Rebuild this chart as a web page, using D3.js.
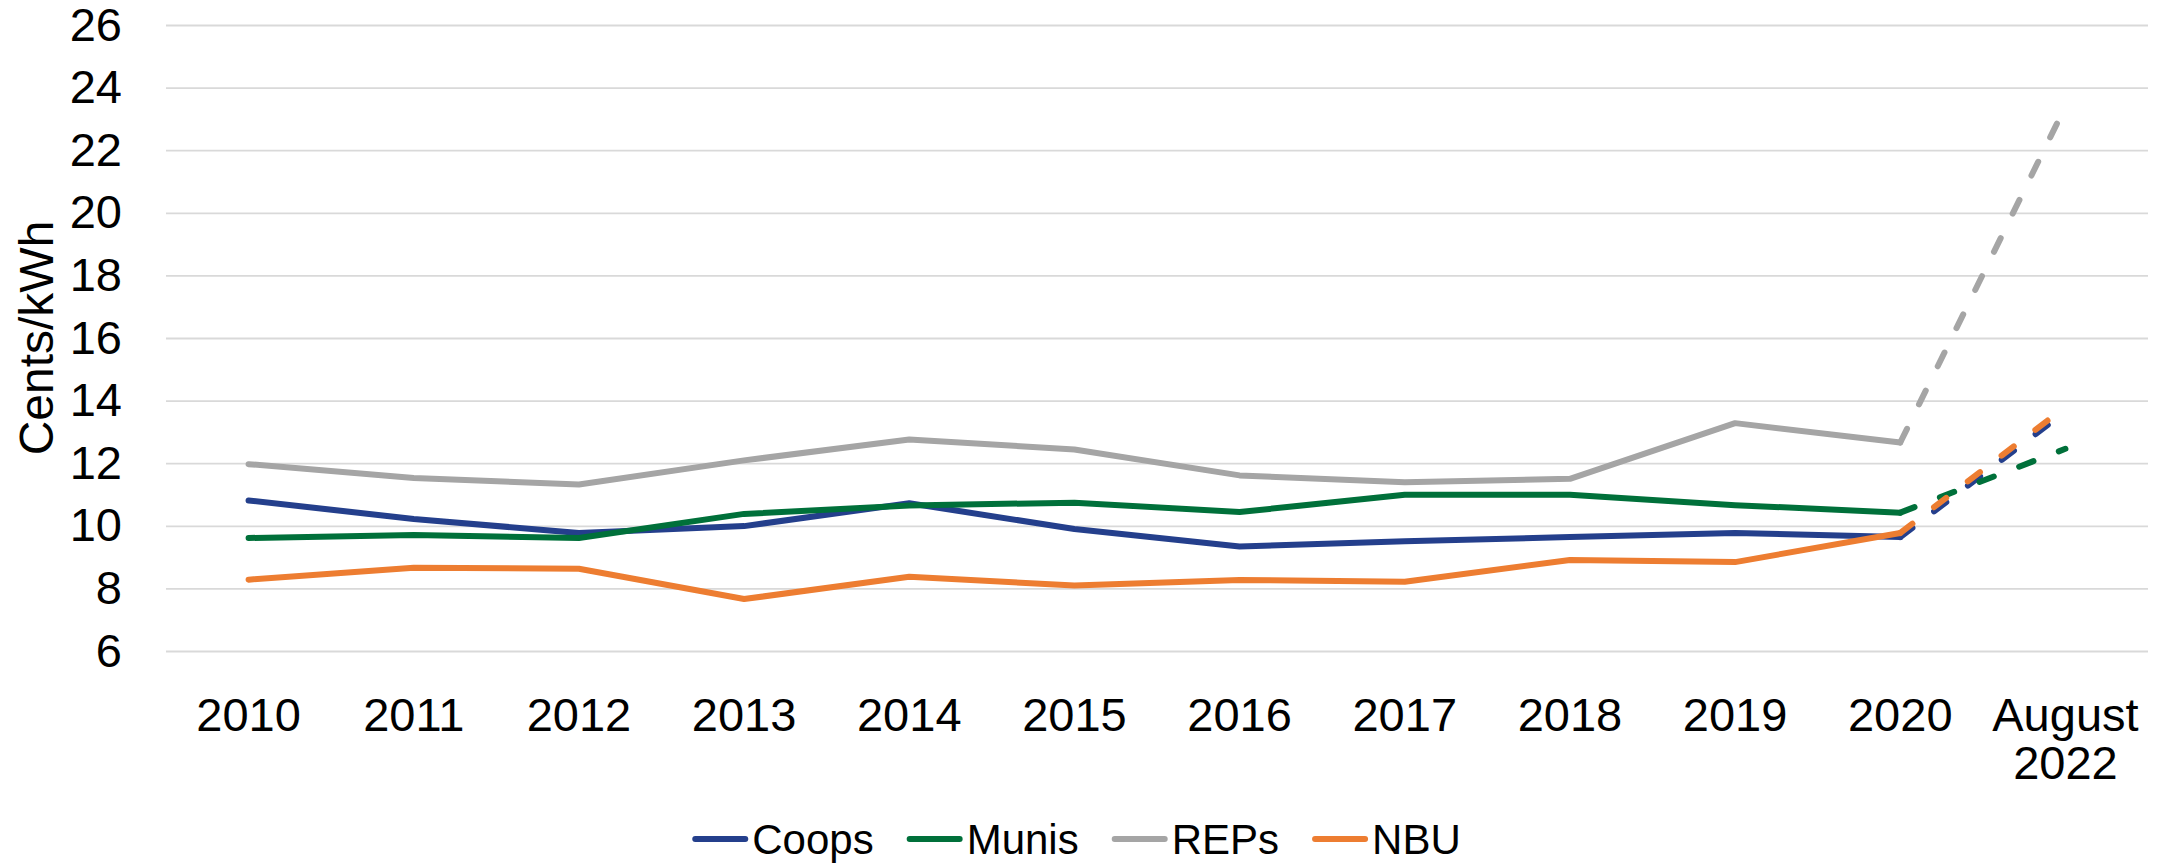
<!DOCTYPE html>
<html>
<head>
<meta charset="utf-8">
<script src="https://cdn.jsdelivr.net/npm/d3@7/dist/d3.min.js"></script>
<style>
  html, body { margin: 0; padding: 0; background: #ffffff; }
  svg { display: block; font-family: "Liberation Sans", Arial, sans-serif; }
</style>
</head>
<body>
<svg id="chart" width="2175" height="863"></svg>
<script>
// ---- data ----
const categories = ["2010","2011","2012","2013","2014","2015","2016","2017","2018","2019","2020","August 2022"];
const coops = [10.81, 10.22, 9.77, 9.99, 10.72, 9.90, 9.34, 9.51, 9.64, 9.77, 9.64, 13.65];
const munis = [9.61, 9.71, 9.61, 10.38, 10.65, 10.74, 10.44, 10.99, 10.99, 10.66, 10.42, 12.46];
const reps  = [11.97, 11.53, 11.32, 12.09, 12.76, 12.44, 11.61, 11.39, 11.50, 13.28, 12.66, 23.4];
const nbu   = [8.28, 8.66, 8.63, 7.66, 8.37, 8.09, 8.27, 8.21, 8.91, 8.84, 9.77, 13.8];
const yTicks = [6, 8, 10, 12, 14, 16, 18, 20, 22, 24, 26];
const seriesNames = ["Coops", "Munis", "REPs", "NBU"];
const seriesColors = ["#243F8C", "#00703A", "#A5A5A5", "#ED7D31"];
const yTitle = "Cents/kWh";
const solidUntil = "2020"; // last category drawn solid; after it the line is dashed

const series = [coops, munis, reps, nbu].map((vals, i) => ({
  name: seriesNames[i], color: seriesColors[i],
  values: vals.map((v, j) => ({ cat: categories[j], v }))
}));

// ---- layout ----
const svg = d3.select("#chart");
const plot = { left: 166, right: 2148, top: 25, bottom: 651 };
const fontSize = 47;
const lineW = 6;

const x = d3.scaleBand().domain(categories).range([plot.left, plot.right]).paddingInner(0).paddingOuter(0);
const cx = c => x(c) + x.bandwidth() / 2;
const y = d3.scaleLinear().domain([6, 26]).range([plot.bottom, plot.top]);

// gridlines + y labels
const yAxis = d3.axisLeft(y).tickValues(yTicks).tickSize(-(plot.right - plot.left)).tickPadding(44).tickFormat(d3.format("d"));
const gy = svg.append("g").attr("transform", `translate(${plot.left},0)`).call(yAxis);
gy.select(".domain").remove();
gy.selectAll(".tick line").attr("stroke", "#D9D9D9").attr("stroke-width", 1.8);
gy.selectAll(".tick text").attr("font-size", fontSize).attr("fill", "#000").attr("font-family", "Liberation Sans, Arial, sans-serif");

// x labels
const xAxis = d3.axisBottom(x).tickSize(0).tickPadding(0);
const gx = svg.append("g").attr("transform", `translate(0,${plot.bottom})`).call(xAxis);
gx.select(".domain").remove();
gx.selectAll(".tick text").each(function(d) {
  const t = d3.select(this);
  t.text(null).attr("y", 0).attr("dy", null)
   .attr("font-size", fontSize).attr("fill", "#000").attr("font-family", "Liberation Sans, Arial, sans-serif");
  d.split(" ").forEach((w, i) => {
    t.append("tspan").attr("x", 0).attr("y", 80 + i * 48).text(w);
  });
});

// y title
svg.append("text")
  .attr("transform", `translate(53,${(plot.top + plot.bottom) / 2}) rotate(-90)`)
  .attr("text-anchor", "middle")
  .attr("font-size", 48)
  .attr("fill", "#000")
  .text(yTitle);

// lines
const line = d3.line().x(d => cx(d.cat)).y(d => y(d.v));
const splitIdx = categories.indexOf(solidUntil);
const gLines = svg.append("g");
series.forEach(s => {
  gLines.append("path")
    .attr("d", line(s.values.slice(0, splitIdx + 1)))
    .attr("fill", "none").attr("stroke", s.color).attr("stroke-width", lineW)
    .attr("stroke-linejoin", "round").attr("stroke-linecap", "round");
  gLines.append("path")
    .attr("d", line(s.values.slice(splitIdx)))
    .attr("fill", "none").attr("stroke", s.color).attr("stroke-width", lineW)
    .attr("stroke-dasharray", "15.3,27.2")
    .attr("stroke-linecap", "round");
});

// legend
const legendFont = 42;
const legendY = 839;
const gLeg = svg.append("g");
const items = [];
let cursor = 0;
series.forEach((s, i) => {
  const g = gLeg.append("g");
  g.append("line").attr("x1", 0).attr("x2", 50).attr("y1", 0).attr("y2", 0)
    .attr("stroke", s.color).attr("stroke-width", lineW).attr("stroke-linecap", "round");
  const t = g.append("text").attr("x", 57).attr("y", 0).attr("dy", "0.35em")
    .attr("font-size", legendFont).attr("fill", "#000").text(s.name);
  const w = 57 + t.node().getComputedTextLength();
  items.push({ g, start: cursor });
  cursor += w + 36;
});
const totalW = cursor - 36;
const legStart = 1078 - totalW / 2;
items.forEach(it => it.g.attr("transform", `translate(${legStart + it.start},${legendY})`));
</script>
</body>
</html>
